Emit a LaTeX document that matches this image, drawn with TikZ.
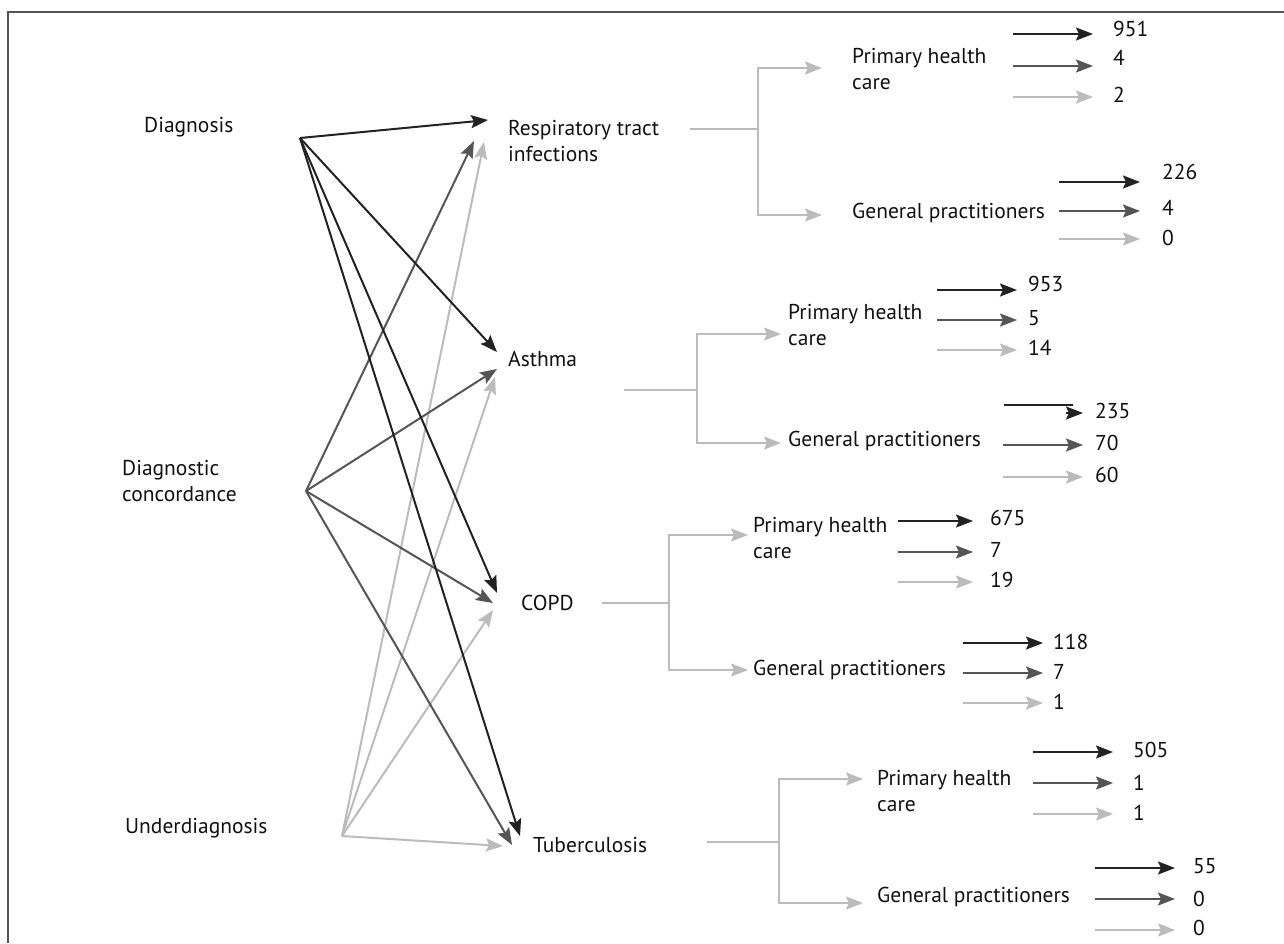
\documentclass[tikz,border=0pt]{standalone}
\usepackage{fontspec}
\setmainfont{PT Sans}
\usetikzlibrary{arrows.meta}
\definecolor{cblk}{HTML}{222222}
\definecolor{cdrk}{HTML}{555555}
\definecolor{clgt}{HTML}{BBBBBB}
\definecolor{ctxt}{HTML}{111111}
\newcommand\numarr[7]{%
  \coordinate (#1s) at (#2,#4);
  \coordinate (#1e) at (#3,#4);
  \draw[#5] (#1s) -- (#1e);
  \node[lbl] (#1n) at #6 {#7};}
\begin{document}
\begin{tikzpicture}[x=1pt,y=-1pt,
  lbl/.style={anchor=west,inner sep=0pt,text=ctxt,font=\fontsize{21.5}{26}\selectfont,align=left},
  tipsty/.style={-{Stealth[length=17pt,width=13pt,inset=3pt]}},
  blk/.style={line width=2pt,draw=cblk,tipsty},
  drk/.style={line width=2pt,draw=cdrk,tipsty},
  lgt/.style={line width=2pt,draw=clgt,tipsty},
  tree/.style={line width=1.8pt,draw=clgt},
  treearr/.style={tree,tipsty},
  frame/.style={line width=2pt,draw=cdrk}]
\useasboundingbox (0,0) rectangle (1284,943);
\draw[frame] (8,943) -- (8,12) -- (1284,12);

% left labels
\node[lbl] (diag) at (144,127) {Diagnosis};
\node[lbl] (conc) at (122,481) {Diagnostic\\concordance};
\node[lbl] (under) at (125,828) {Underdiagnosis};

% target labels
\node[lbl] (rti) at (508,141) {Respiratory tract\\infections};
\node[lbl] (asthma) at (508,359) {Asthma};
\node[lbl] (copd) at (521,603) {COPD};
\node[lbl] (tb) at (533,845) {Tuberculosis};

% sources
\coordinate (sD) at (300,138);
\coordinate (sC) at (306,491);
\coordinate (sU) at (342,836);
% tips
\coordinate (rtiB) at (488,120);
\coordinate (rtiD) at (474,141);
\coordinate (rtiL) at (484,142);
\coordinate (asB) at (497,352);
\coordinate (asD) at (497,369);
\coordinate (asL) at (495,377);
\coordinate (coB) at (497,593);
\coordinate (coD) at (493,603);
\coordinate (coL) at (493,610);
\coordinate (tbB) at (520,836);
\coordinate (tbD) at (512,845);
\coordinate (tbL) at (503,846);

\draw[lgt] (sU) -- (rtiL);
\draw[lgt] (sU) -- (asL);
\draw[lgt] (sU) -- (coL);
\draw[lgt] (sU) -- (tbL);
\draw[drk] (sC) -- (rtiD);
\draw[drk] (sC) -- (asD);
\draw[drk] (sC) -- (coD);
\draw[drk] (sC) -- (tbD);
\draw[blk] (sD) -- (rtiB);
\draw[blk] (sD) -- (asB);
\draw[blk] (sD) -- (coB);
\draw[blk] (sD) -- (tbB);

% tree 1
\node[lbl] (phc1) at (852,69) {Primary health\\care};
\node[lbl] (gp1) at (852,213) {General practitioners};
\coordinate (t1a) at (690,129); \coordinate (t1b) at (758,129);
\coordinate (t1c) at (758,68); \coordinate (t1d) at (758,215);
\coordinate (t1e) at (822,68); \coordinate (t1f) at (822,215);
\draw[tree] (t1a) -- (t1b);
\draw[treearr] (t1b) -- (t1c) -- (t1e);
\draw[treearr] (t1b) -- (t1d) -- (t1f);

% tree 2
\node[lbl] (phc2) at (788,325) {Primary health\\care};
\node[lbl] (gp2) at (788,441) {General practitioners};
\coordinate (t2a) at (624,390); \coordinate (t2b) at (697,390);
\coordinate (t2c) at (697,334); \coordinate (t2d) at (697,443);
\coordinate (t2e) at (781,334); \coordinate (t2f) at (781,443);
\draw[tree] (t2a) -- (t2b);
\draw[treearr] (t2b) -- (t2c) -- (t2e);
\draw[treearr] (t2b) -- (t2d) -- (t2f);

% tree 3
\node[lbl] (phc3) at (753,538) {Primary health\\care};
\node[lbl] (gp3) at (753,670) {General practitioners};
\coordinate (t3a) at (602,603); \coordinate (t3b) at (669,603);
\coordinate (t3c) at (669,535); \coordinate (t3d) at (669,670);
\coordinate (t3e) at (748,535); \coordinate (t3f) at (748,670);
\draw[tree] (t3a) -- (t3b);
\draw[treearr] (t3b) -- (t3c) -- (t3e);
\draw[treearr] (t3b) -- (t3d) -- (t3f);

% tree 4
\node[lbl] (phc4) at (877,791) {Primary health\\care};
\node[lbl] (gp4) at (877,897) {General practitioners};
\coordinate (t4a) at (707,842); \coordinate (t4b) at (779,842);
\coordinate (t4c) at (779,779); \coordinate (t4d) at (779,903);
\coordinate (t4e) at (863,779); \coordinate (t4f) at (863,903);
\draw[tree] (t4a) -- (t4b);
\draw[treearr] (t4b) -- (t4c) -- (t4e);
\draw[treearr] (t4b) -- (t4d) -- (t4f);

% numbers: PHC1
\numarr{n1a}{1013}{1093}{34}{blk}{(1113,29)}{951}
\numarr{n1b}{1013}{1093}{66}{drk}{(1113,58)}{4}
\numarr{n1c}{1013}{1093}{97}{lgt}{(1113,95)}{2}
% GP1
\numarr{n2a}{1059}{1140}{182}{blk}{(1162,172)}{226}
\numarr{n2b}{1059}{1140}{211}{drk}{(1162,208)}{4}
\numarr{n2c}{1059}{1140}{239}{lgt}{(1162,238)}{0}
% PHC2
\numarr{n3a}{937}{1017}{290}{blk}{(1028,284)}{953}
\numarr{n3b}{937}{1017}{320}{drk}{(1028,318)}{5}
\numarr{n3c}{937}{1017}{350}{lgt}{(1028,348)}{14}
% GP2 (offset head on the first arrow)
\coordinate (n4as) at (1004,405); \coordinate (n4am) at (1073,405);
\coordinate (n4ah) at (1066,413); \coordinate (n4ae) at (1083,413);
\draw[line width=2pt,draw=cblk] (n4as) -- (n4am);
\draw[blk] (n4ah) -- (n4ae);
\node[lbl] (n4an) at (1095,411) {235};
\numarr{n4b}{1003}{1083}{445}{drk}{(1095,443)}{70}
\numarr{n4c}{1003}{1083}{477}{lgt}{(1095,475)}{60}
% PHC3
\numarr{n5a}{898}{973}{521}{blk}{(990,518)}{675}
\numarr{n5b}{898}{973}{552}{drk}{(990,550)}{7}
\numarr{n5c}{898}{973}{582}{lgt}{(990,580)}{19}
% GP3
\numarr{n6a}{963}{1043}{643}{blk}{(1053,642)}{118}
\numarr{n6b}{963}{1043}{673}{drk}{(1053,672)}{7}
\numarr{n6c}{963}{1043}{703}{lgt}{(1053,702)}{1}
% PHC4
\numarr{n7a}{1033}{1113}{752}{blk}{(1133,750)}{505}
\numarr{n7b}{1033}{1113}{783}{drk}{(1133,783)}{1}
\numarr{n7c}{1033}{1113}{814}{lgt}{(1133,813)}{1}
% GP4
\numarr{n8a}{1095}{1175}{868}{blk}{(1193,866)}{55}
\numarr{n8b}{1095}{1175}{899}{drk}{(1193,899)}{0}
\numarr{n8c}{1095}{1175}{930}{lgt}{(1193,928)}{0}
\end{tikzpicture}
\end{document}
